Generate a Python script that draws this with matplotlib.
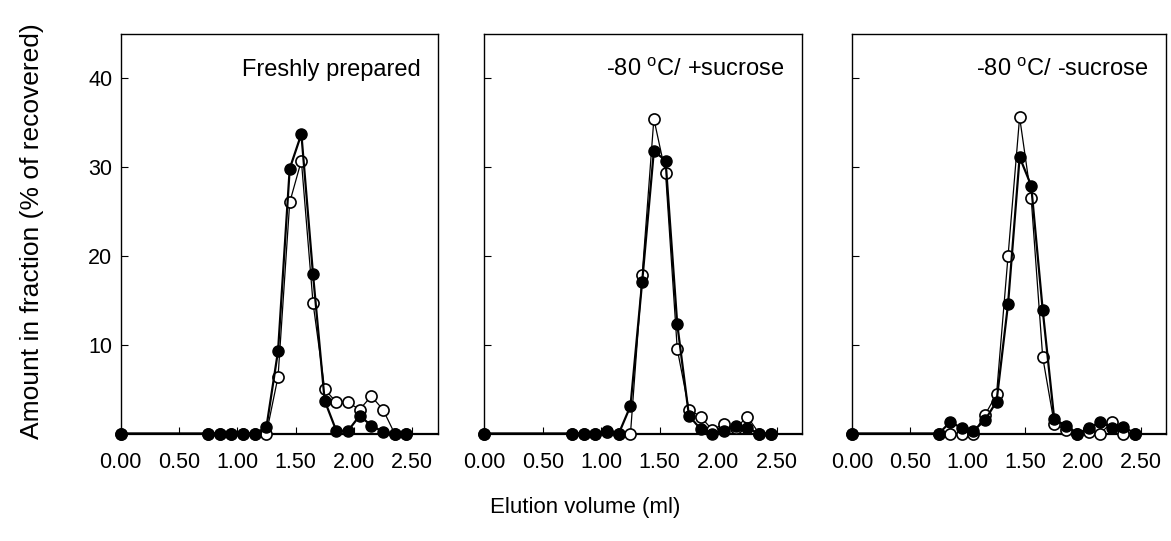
import matplotlib
matplotlib.use("Agg")
import matplotlib.pyplot as plt

plt.rcParams['font.family'] = ['Liberation Sans', 'DejaVu Sans']
plt.rcParams['mathtext.fontset'] = 'custom'
plt.rcParams['mathtext.rm'] = 'Liberation Sans'

# elution volume of each fraction (ml)
volume = [0.0, 0.75, 0.85, 0.95, 1.05, 1.15, 1.25, 1.35, 1.45, 1.55,
          1.65, 1.75, 1.85, 1.95, 2.05, 2.15, 2.25, 2.35, 2.45]

titles = ['Freshly prepared', '-80 $^{\\mathrm{o}}$C/ +sucrose', '-80 $^{\\mathrm{o}}$C/ -sucrose']

# filled circles
fresh_filled = [0, 0, 0, 0, 0, 0, 0.7, 9.3, 29.8, 33.7, 17.9, 3.7, 0.3, 0.3, 2.0, 0.9, 0.2, 0, 0]
plus_filled = [0, 0, 0, 0, 0.3, 0, 3.1, 17.1, 31.8, 30.7, 12.3, 2.0, 0.5, 0, 0.3, 0.8, 0.6, 0, 0]
minus_filled = [0, 0, 1.3, 0.6, 0.3, 1.5, 3.6, 14.6, 31.1, 27.9, 13.9, 1.6, 0.9, 0, 0.6, 1.3, 0.6, 0.75, 0]

# open circles
fresh_open = [0, 0, 0, 0, 0, 0, 0, 6.4, 26.0, 30.7, 14.7, 5.0, 3.5, 3.5, 2.7, 4.2, 2.7, 0, 0]
plus_open = [0, 0, 0, 0, 0.2, 0, 0, 17.8, 35.4, 29.3, 9.5, 2.7, 1.9, 0.4, 1.1, 0.6, 1.9, 0, 0]
minus_open = [0, 0, 0, 0, 0, 2.1, 4.4, 20.0, 35.6, 26.5, 8.6, 1.1, 0.4, 0, 0.2, 0, 1.3, 0, 0]

filled = [fresh_filled, plus_filled, minus_filled]
opened = [fresh_open, plus_open, minus_open]

fig = plt.figure(figsize=(11.71, 5.41), dpi=100)
lefts = [0.1031, 0.4136, 0.7278]
widths = [0.2707, 0.2716, 0.2681]

for i in range(3):
    ax = fig.add_axes([lefts[i], 0.1987, widths[i], 0.7393])
    ax.plot(volume, opened[i], '-o', color='black', lw=0.9, ms=8,
            mfc='white', mec='black', mew=1.2, clip_on=False, zorder=3)
    ax.plot(volume, filled[i], '-o', color='black', lw=1.6, ms=8,
            mfc='black', mec='black', clip_on=False, zorder=4)
    ax.set_xlim(0, 2.72)
    ax.set_ylim(0, 45)
    ax.set_xticks([0, 0.5, 1.0, 1.5, 2.0, 2.5])
    ax.set_xticklabels(['0.00', '0.50', '1.00', '1.50', '2.00', '2.50'])
    ax.set_yticks([10, 20, 30, 40])
    ax.tick_params(direction='in', length=5, width=0.8, labelsize=15.5)
    ax.tick_params(axis='x', pad=13)
    ax.tick_params(axis='y', pad=6)
    if i > 0:
        ax.set_yticklabels([])
    for s in ax.spines.values():
        s.set_linewidth(1.0)
    ax.spines['bottom'].set_linewidth(1.6)
    ax.text(0.945, 0.91, titles[i], transform=ax.transAxes,
            ha='right', va='center', fontsize=17)

fig.text(0.027, 0.573, 'Amount in fraction (% of recovered)', rotation=90,
         ha='center', va='center', fontsize=19)
fig.text(0.5, 0.061, 'Elution volume (ml)', ha='center', va='center', fontsize=16)

fig.savefig('out.png', dpi=100)
